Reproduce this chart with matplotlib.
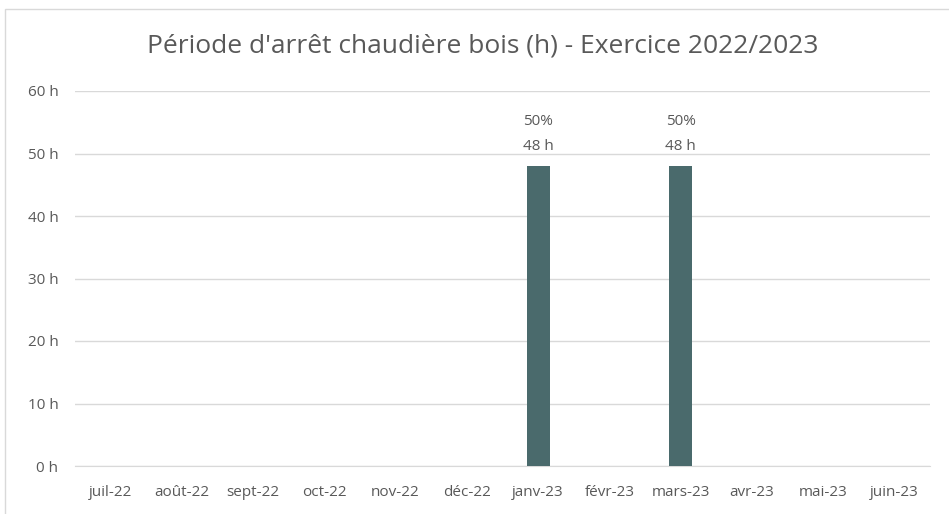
import numpy as np
import matplotlib.pyplot as plt
from matplotlib.patches import Rectangle

plt.rcParams['font.family'] = ['Open Sans', 'DejaVu Sans']

months = ['juil-22', 'août-22', 'sept-22', 'oct-22', 'nov-22', 'déc-22',
          'janv-23', 'févr-23', 'mars-23', 'avr-23', 'mai-23', 'juin-23']
hours = [0, 0, 0, 0, 0, 0, 48, 0, 48, 0, 0, 0]
shares = [0, 0, 0, 0, 0, 0, 50, 0, 50, 0, 0, 0]
yticks = [0, 10, 20, 30, 40, 50, 60]

text_col = '#595959'
bar_col = '#4a6a6c'

fig = plt.figure(figsize=(9.49, 5.14), dpi=100)
W, H = 949, 514

# chart frame
fig.patches.append(Rectangle((5 / W, -0.1), 1.2, (H - 9) / H + 0.1,
                             transform=fig.transFigure, fill=False,
                             edgecolor='#d9d9d9', linewidth=1))

ax = fig.add_axes([75 / W, (H - 466) / H, (930 - 75) / W, (466 - 91) / H])
x = np.arange(len(months))
ax.bar(x, hours, width=0.32, color=bar_col, zorder=3)

for xi, h, s in zip(x, hours, shares):
    if h > 0:
        ax.text(xi, h + 2.0, f'{s}%\n{h} h', ha='center', va='bottom',
                fontsize=11, color=text_col, linespacing=1.85)

ax.set_xlim(-0.5, len(months) - 0.5)
ax.set_ylim(0, 60)
ax.set_yticks(yticks)
ax.set_yticklabels([f'{v} h' for v in yticks])
ax.set_xticks(x)
ax.set_xticklabels(months)
ax.tick_params(axis='both', length=0, labelsize=11, colors=text_col)
ax.tick_params(axis='y', pad=12)
ax.tick_params(axis='x', pad=14)
ax.grid(axis='y', color='#d9d9d9', linewidth=1, zorder=0)
for side in ['top', 'right', 'left']:
    ax.spines[side].set_visible(False)
ax.spines['bottom'].set_color('#d9d9d9')

fig.text(483 / W, 1 - 46 / H, "Période d'arrêt chaudière bois (h) - Exercice 2022/2023",
         ha='center', va='center', fontsize=19, color=text_col)

fig.savefig('out.png', dpi=100)
